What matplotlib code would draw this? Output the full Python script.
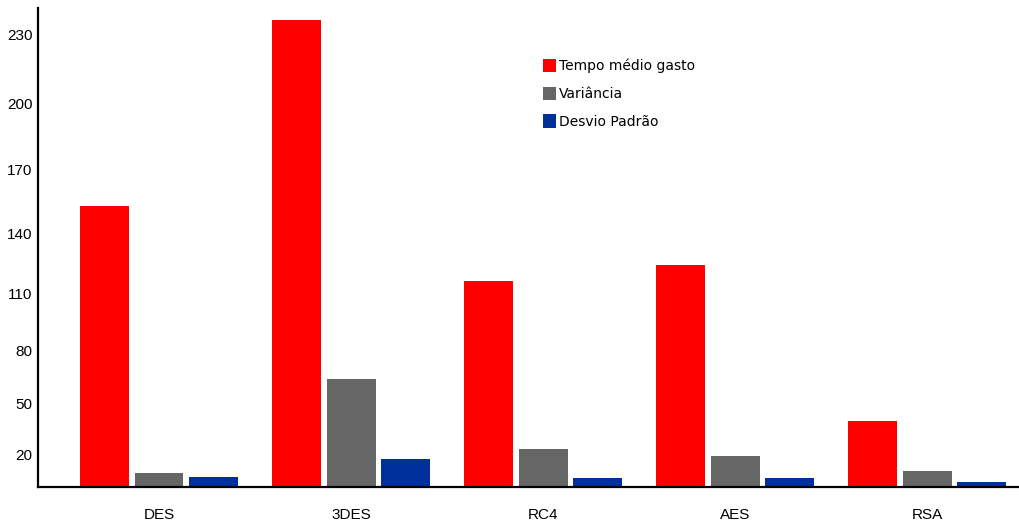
import numpy as np
import matplotlib
matplotlib.use("Agg")
import matplotlib.pyplot as plt

# tempo de execução por algoritmo
algoritmos = ["DES", "3DES", "RC4", "AES", "RSA"]
tempo_medio = [153, 236, 116, 124, 40]
variancia = [9, 64, 23.5, 19, 10]
desvio_padrao = [6, 17.5, 5.5, 5.5, 3]

series = ["Tempo médio gasto", "Variância", "Desvio Padrão"]
cores = ["#ff0000", "#666666", "#00309c"]
yticks = [20, 50, 80, 110, 140, 170, 200, 230]

# eixo y levemente esticado em cima
k = 0.001086


def forward(v):
    v = np.asarray(v, dtype=float)
    return v + k * v * np.abs(v)


def inverse(y):
    y = np.asarray(y, dtype=float)
    return np.sign(y) * (np.sqrt(1 + 4 * k * np.abs(y)) - 1) / (2 * k)


fig = plt.figure(figsize=(10.19, 5.25), dpi=100)
ax = fig.add_axes([0.0373, 0.0724, 0.963, 0.912])

x = np.arange(len(algoritmos))
largura = 0.255
passo = 0.283
for i, (vals, nome, cor) in enumerate(zip([tempo_medio, variancia, desvio_padrao], series, cores)):
    ax.bar(x + (i - 1) * passo, vals, width=largura, color=cor, label=nome,
           edgecolor="none")

ax.set_yscale("function", functions=(forward, inverse))
ax.set_ylim(0, 241)
ax.set_xlim(-0.63, 4.48)
ax.set_yticks(yticks)
ax.set_xticks(x)
ax.set_xticklabels(algoritmos)

for lbl in ax.get_yticklabels() + ax.get_xticklabels():
    lbl.set_family("Liberation Sans")
    lbl.set_fontsize(11)
ax.tick_params(axis="y", length=0, pad=4)
ax.tick_params(axis="x", length=0, pad=15)

for s in ["top", "right"]:
    ax.spines[s].set_visible(False)
ax.spines["left"].set_linewidth(1.6)
ax.spines["bottom"].set_linewidth(1.6)

ax.legend(loc="upper left", bbox_to_anchor=(0.502, 0.92), frameon=False,
          prop={"family": "DejaVu Sans", "size": 10}, handlelength=0.9,
          handleheight=1.1, handletextpad=0.25, labelspacing=0.95)

fig.savefig("out.png", dpi=100, facecolor="white")
